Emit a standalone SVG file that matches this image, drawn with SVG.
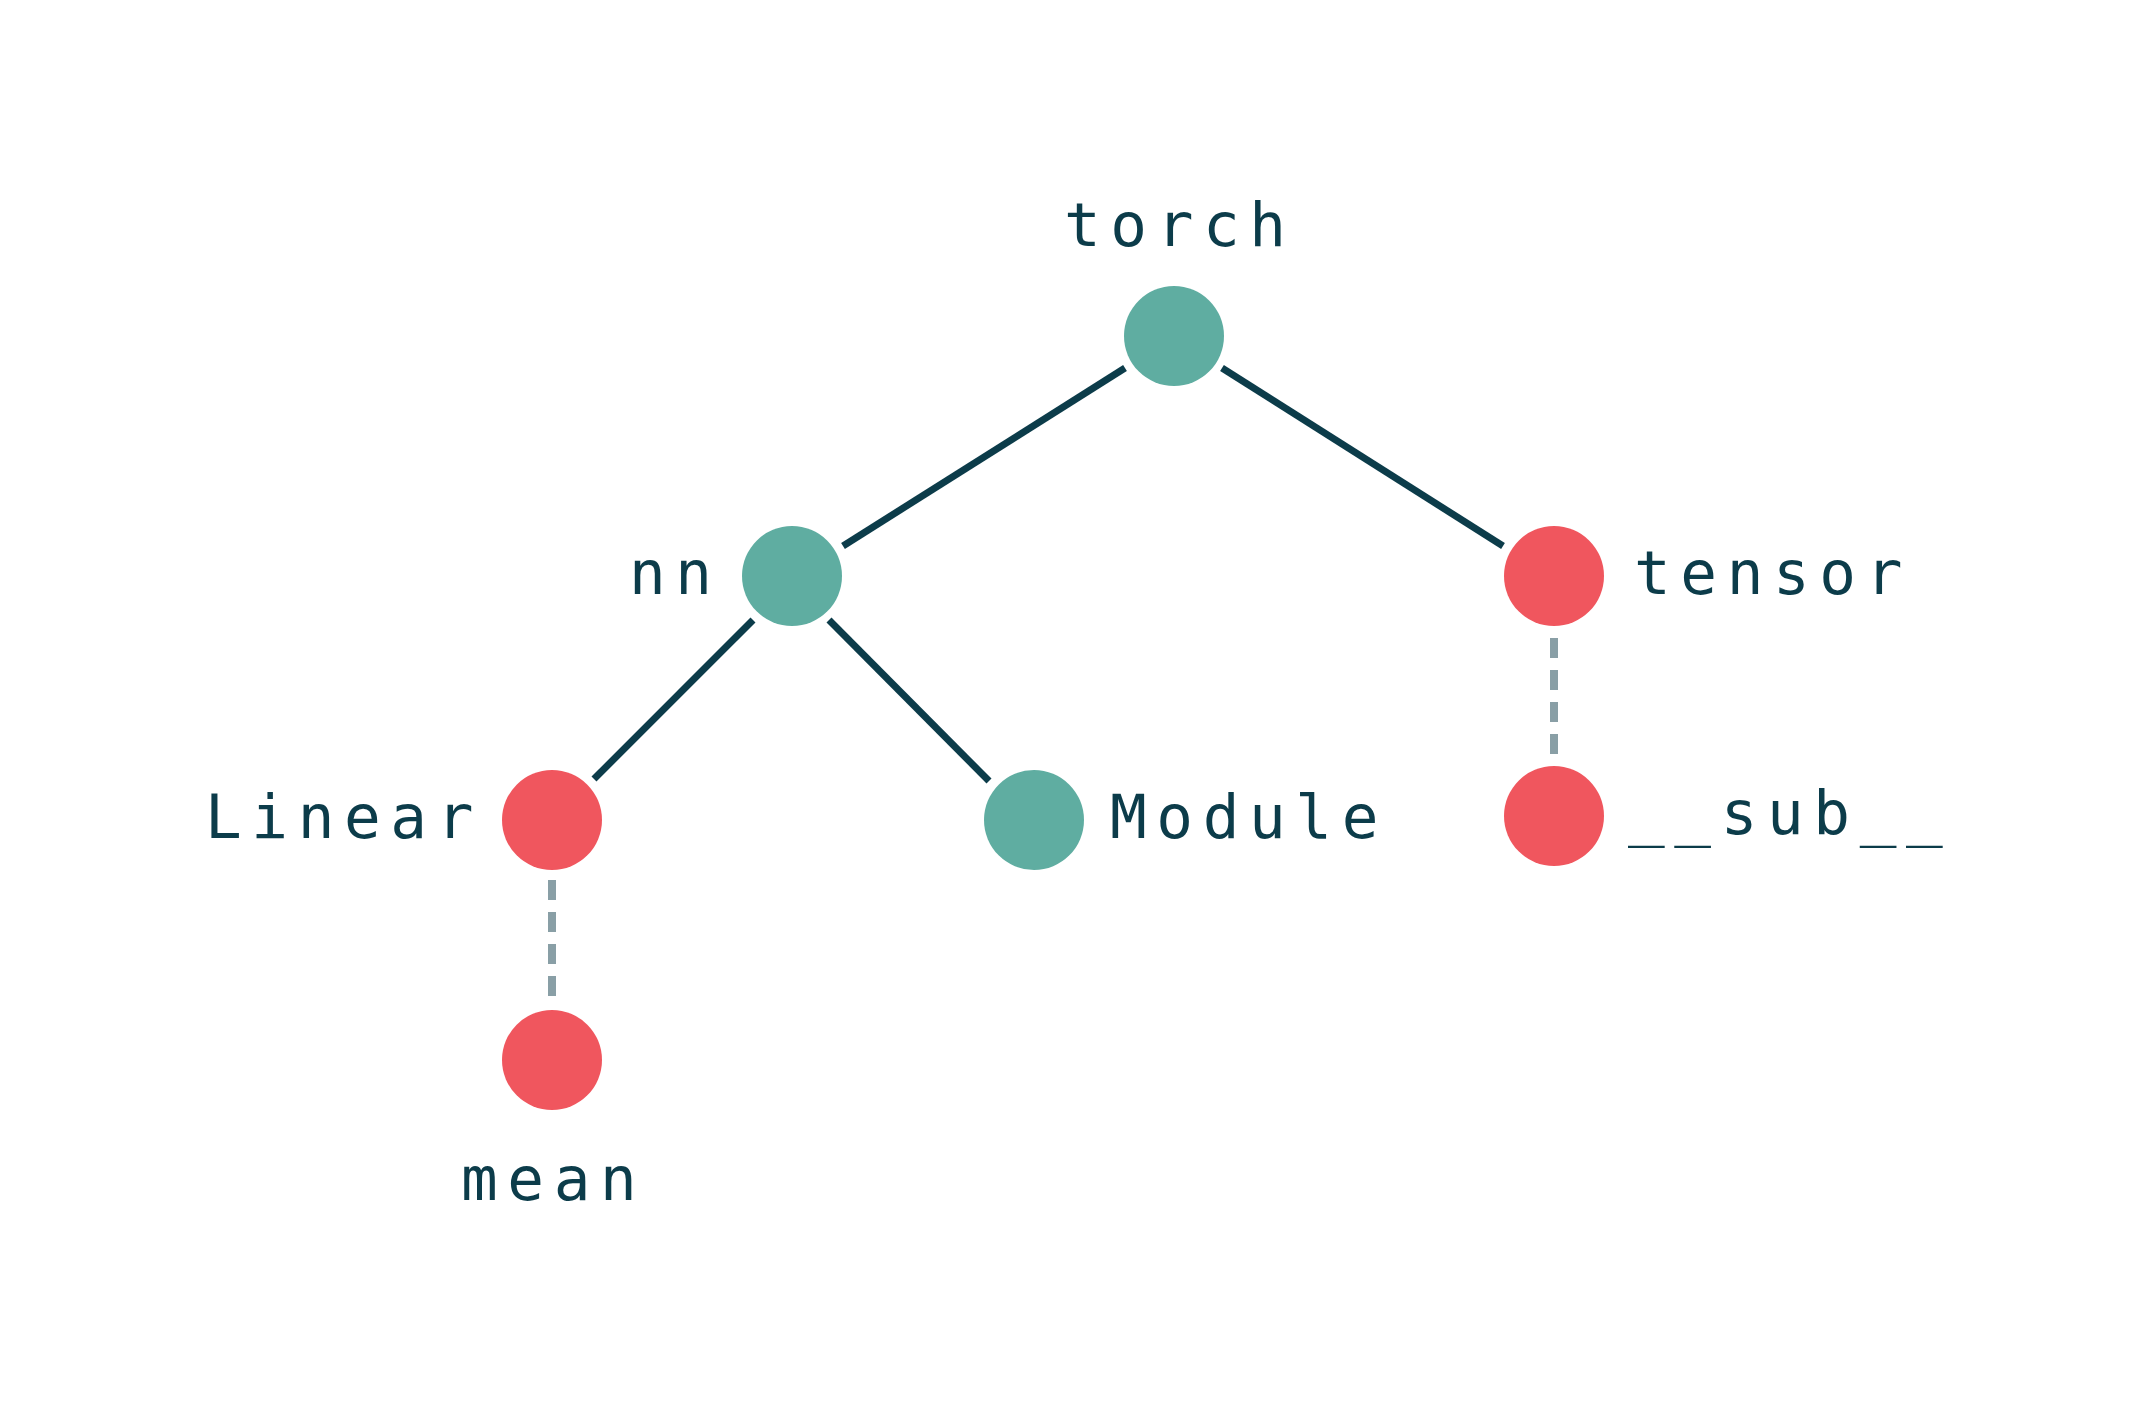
<svg xmlns="http://www.w3.org/2000/svg" width="2152" height="1424" viewBox="0 0 2152 1424">
<style>
.lbl{font-family:"DejaVu Sans Mono","Liberation Mono",monospace;font-size:61px;fill:#0c3c4a;letter-spacing:9.6px}
.teal{fill:#5fada1}
.red{fill:#f0565e}
.edge{stroke:#0c3c4a;stroke-width:7;fill:none}
.dash{stroke:#899fa6;stroke-width:8;fill:none;stroke-dasharray:20 12}
</style>
<rect width="2152" height="1424" fill="#ffffff"/>
<g id="connectors">
<line class="edge" x1="1125" y1="368" x2="843" y2="546"/>
<line class="edge" x1="1222" y1="368" x2="1503" y2="546"/>
<line class="edge" x1="753" y1="620" x2="594" y2="779"/>
<line class="edge" x1="829" y1="620" x2="989" y2="781"/>
<line class="dash" x1="1554" y1="638" x2="1554" y2="754"/>
<line class="dash" x1="552" y1="880" x2="552" y2="996"/>
</g>
<g id="node-torch"><circle class="teal" cx="1174" cy="336" r="50"/><text class="lbl" x="1064" y="246">torch</text></g>
<g id="node-nn"><circle class="teal" cx="792" cy="576" r="50"/><text class="lbl" x="629" y="594">nn</text></g>
<g id="node-tensor"><circle class="red" cx="1554" cy="576" r="50"/><text class="lbl" x="1634" y="594">tensor</text></g>
<g id="node-Linear"><circle class="red" cx="552" cy="820" r="50"/><text class="lbl" x="205" y="838">Linear</text></g>
<g id="node-Module"><circle class="teal" cx="1034" cy="820" r="50"/><text class="lbl" x="1110" y="838">Module</text></g>
<g id="node-sub"><circle class="red" cx="1554" cy="816" r="50"/><text class="lbl" x="1628" y="834">__sub__</text></g>
<g id="node-mean"><circle class="red" cx="552" cy="1060" r="50"/><text class="lbl" x="461" y="1200">mean</text></g>
</svg>
